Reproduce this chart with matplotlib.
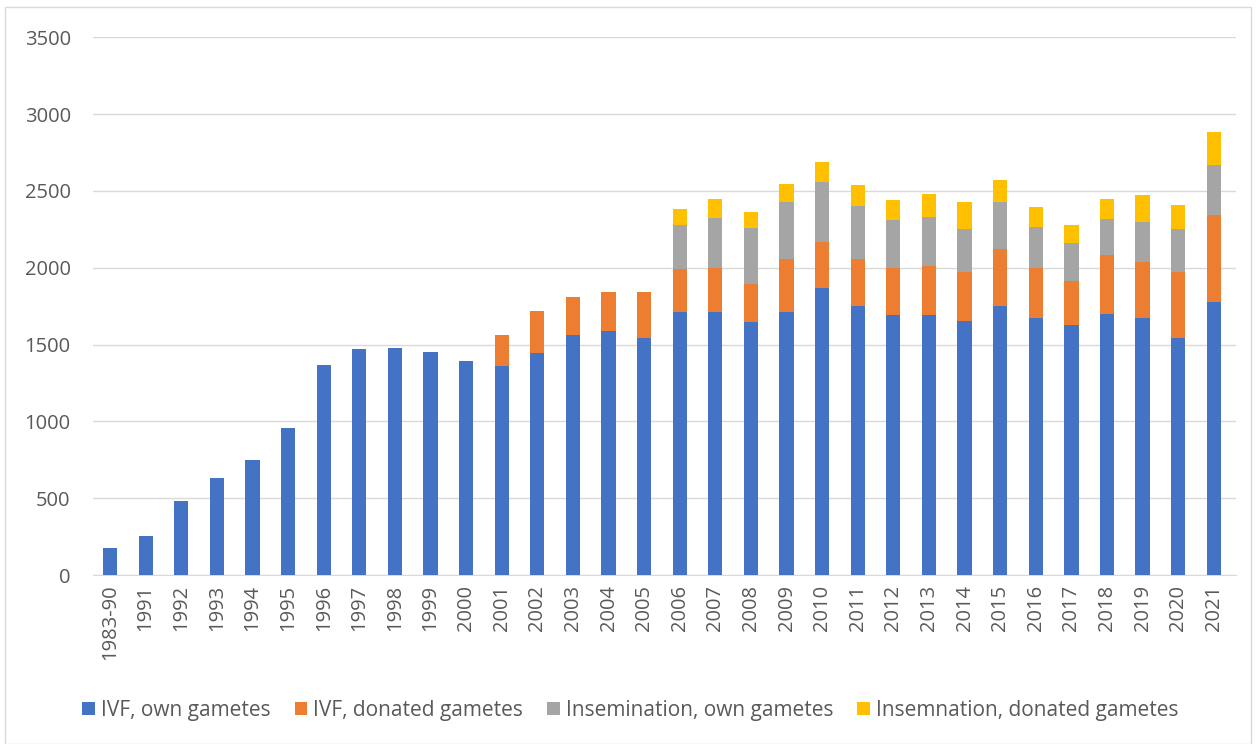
import numpy as np
import matplotlib.pyplot as plt
from matplotlib.patches import Rectangle

plt.rcParams['font.family'] = ['Open Sans', 'DejaVu Sans']

years = ["1983-90"] + [str(y) for y in range(1991, 2022)]

# valeurs
ivf_own = [175, 255, 480, 635, 750, 960, 1370, 1470, 1480, 1450, 1390,
           1360, 1445, 1560, 1590, 1540, 1710, 1710, 1650, 1715, 1870,
           1750, 1695, 1690, 1655, 1750, 1670, 1630, 1700, 1670, 1540, 1780]
ivf_don = [0, 0, 0, 0, 0, 0, 0, 0, 0, 0, 0,
           205, 275, 250, 255, 305, 285, 290, 245, 345, 295,
           305, 305, 320, 315, 375, 330, 285, 380, 370, 430, 565]
ins_own = [0, 0, 0, 0, 0, 0, 0, 0, 0, 0, 0, 0, 0, 0, 0, 0,
           280, 325, 365, 370, 390, 345, 310, 320, 285, 300, 265, 245, 235, 255, 280, 325]
ins_don = [0, 0, 0, 0, 0, 0, 0, 0, 0, 0, 0, 0, 0, 0, 0, 0,
           105, 125, 105, 115, 135, 140, 130, 150, 170, 145, 130, 115, 135, 180, 160, 215]

series = [ivf_own, ivf_don, ins_own, ins_don]
names = ["IVF, own gametes", "IVF, donated gametes",
         "Insemination, own gametes", "Insemnation, donated gametes"]
colors = ["#4472C4", "#ED7D31", "#A5A5A5", "#FFC000"]

fig = plt.figure(figsize=(12.56, 7.44), dpi=100)
ax = fig.add_axes([0.074, 0.227, 0.910, 0.723])
x = np.arange(len(years))
bottom = np.zeros(len(years))
for vals, nm, col in zip(series, names, colors):
    ax.bar(x, vals, 0.4, bottom=bottom, color=col, label=nm, zorder=3)
    bottom += np.array(vals)

ax.set_ylim(0, 3500)
ax.set_xlim(-0.48, 31.62)
ax.set_yticks(np.arange(0, 3501, 500))
ax.yaxis.grid(True, color="#D9D9D9", linewidth=1, zorder=0)
for s in ["top", "right", "left"]:
    ax.spines[s].set_visible(False)
ax.spines["bottom"].set_color("#D9D9D9")
ax.set_xticks(x)
ax.set_xticklabels(years, rotation=90)
ax.tick_params(axis="both", length=0, labelsize=14.5, labelcolor="#595959")
ax.tick_params(axis="y", pad=16)
ax.tick_params(axis="x", pad=7)

fig.legend(loc="lower center", bbox_to_anchor=(0.502, 0.006), ncol=4, frameon=False,
           fontsize=15, labelcolor="#595959", handlelength=0.6, handleheight=0.6,
           handletextpad=0.3, columnspacing=1.15)
fig.patches.append(Rectangle((0.004, 0.0), 0.992, 0.99, transform=fig.transFigure,
                             fill=False, edgecolor="#D9D9D9", linewidth=1))
plt.savefig("out.png", dpi=100)
